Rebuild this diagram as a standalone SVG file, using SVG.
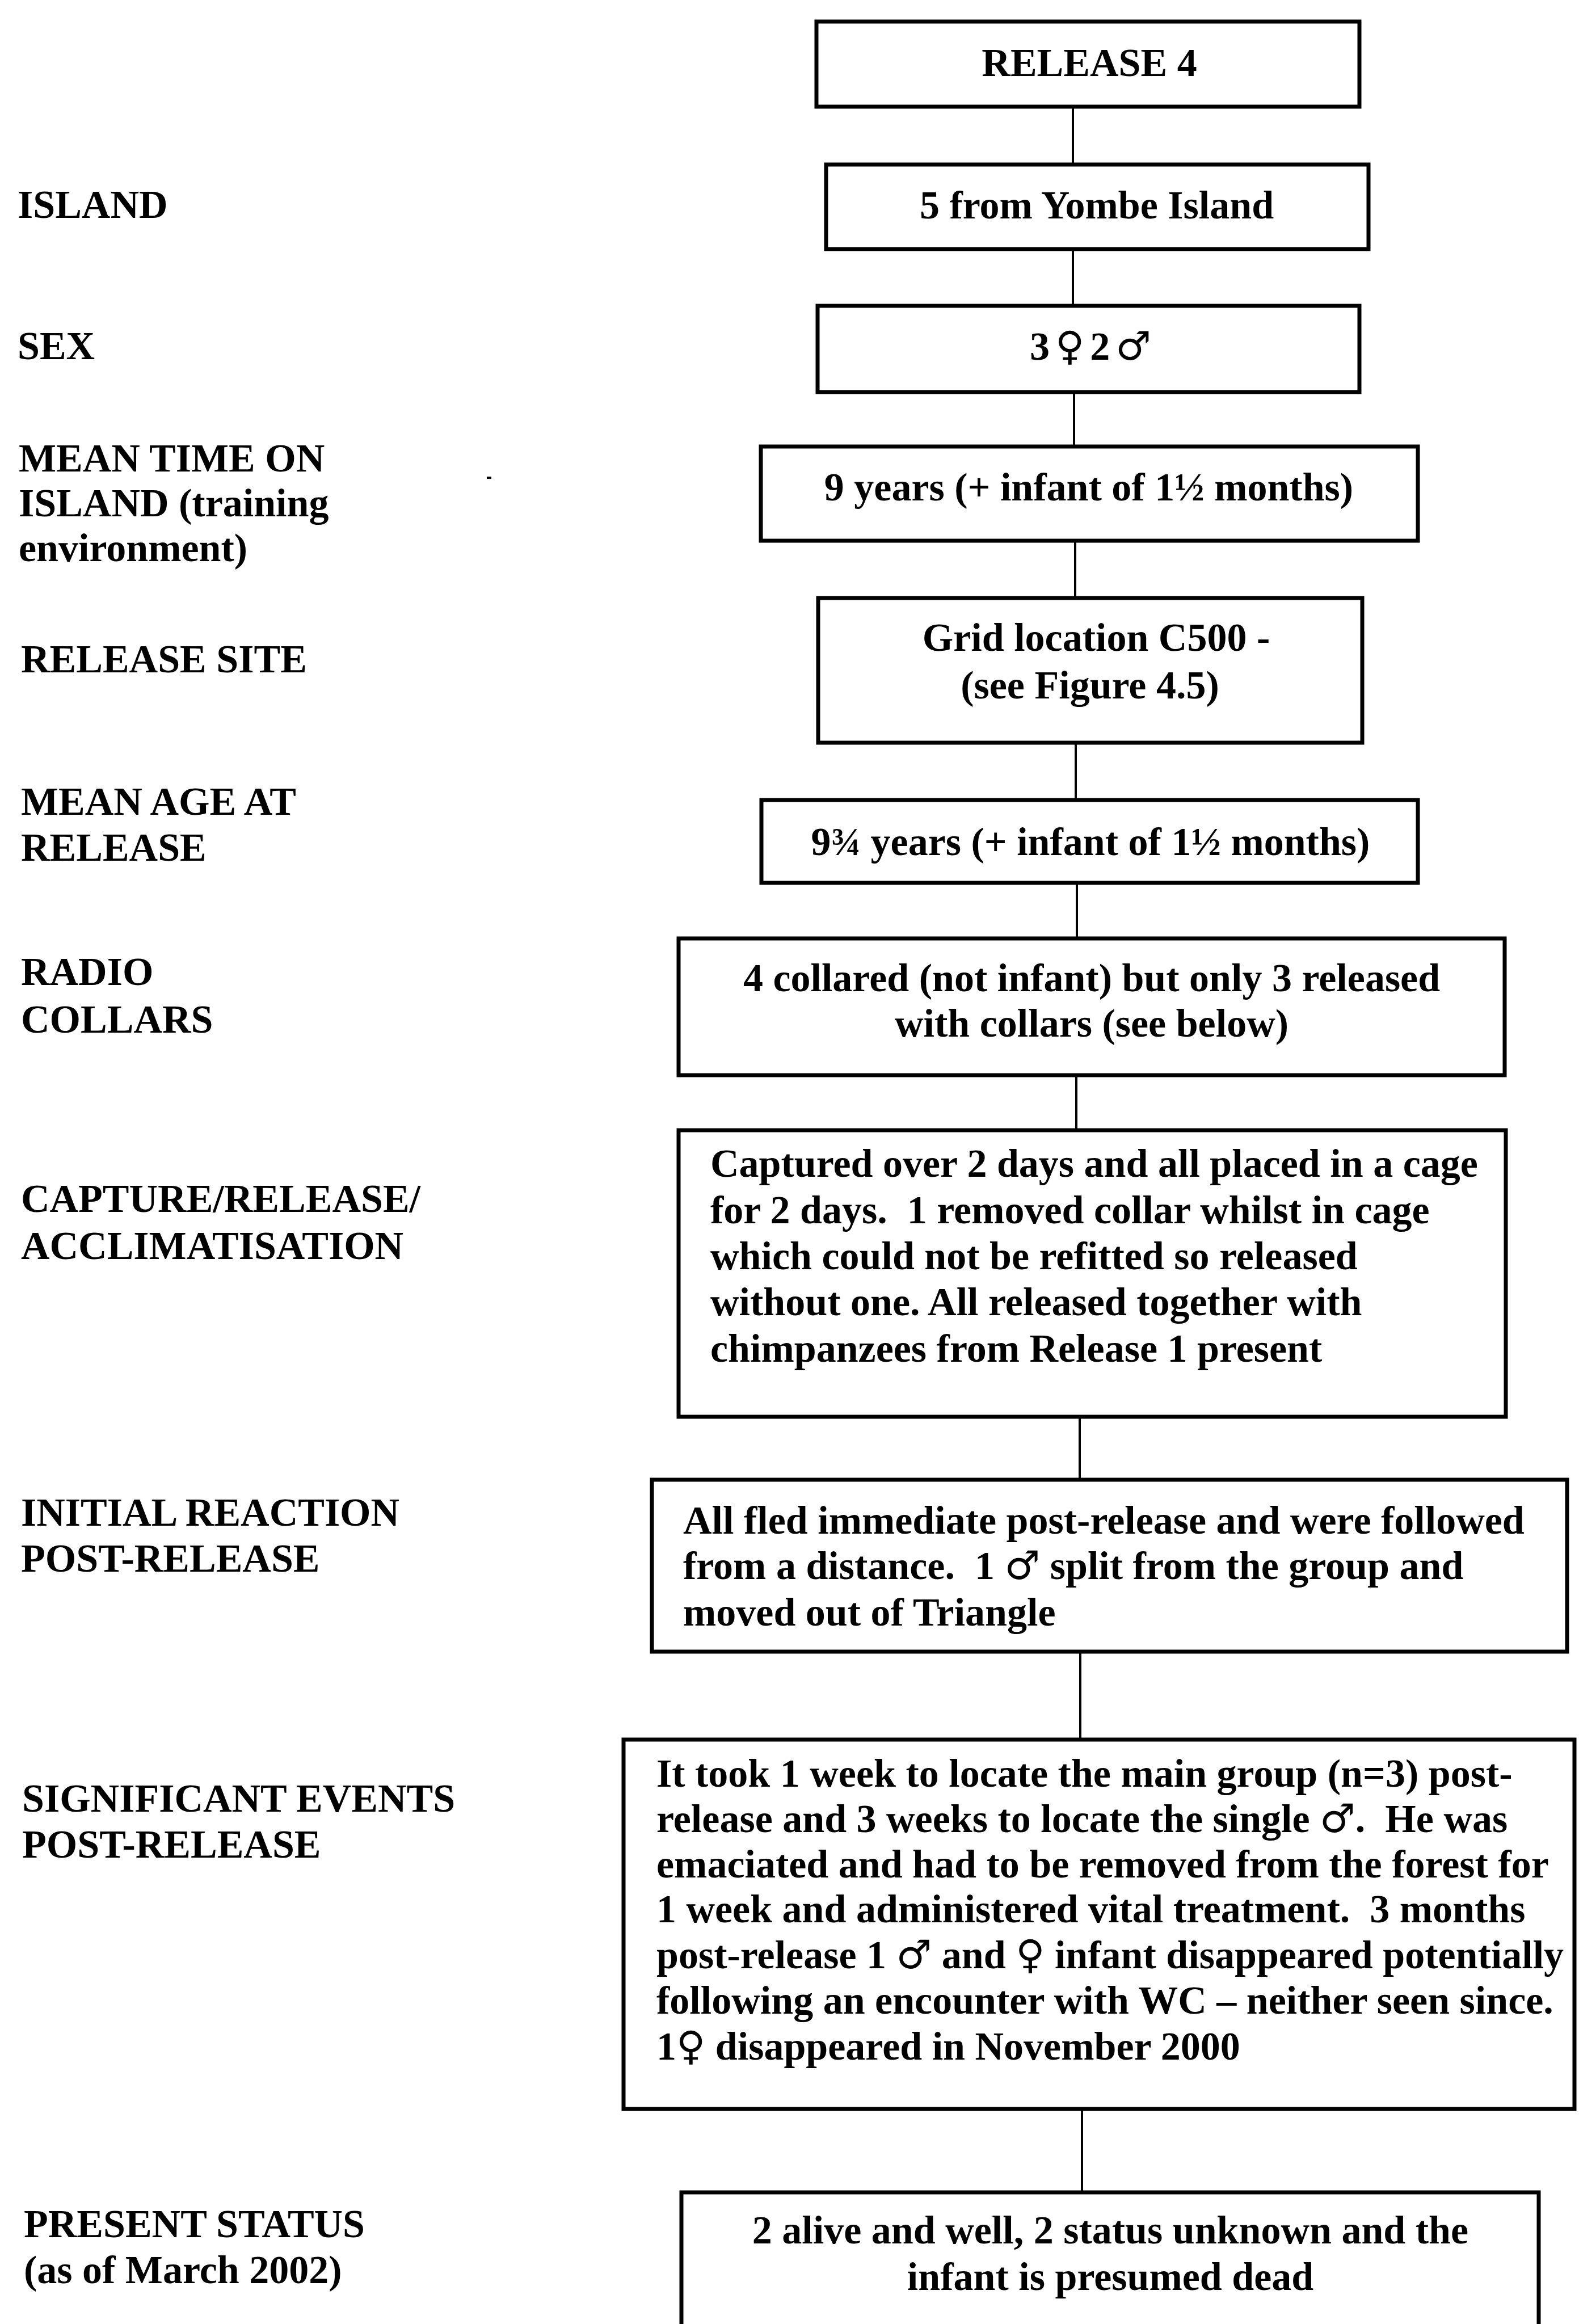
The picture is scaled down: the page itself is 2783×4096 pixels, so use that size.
<svg xmlns="http://www.w3.org/2000/svg" width="2783" height="4096" viewBox="0 0 2783 4096">
<style>
.box{fill:#fff;stroke:#000;stroke-width:7}
.conn{stroke:#000;stroke-width:4;fill:none}
.t{font-family:"Liberation Serif","DejaVu Serif",serif;font-weight:bold;font-size:70px;fill:#000;white-space:pre}
.c{text-anchor:middle}
.sym{font-family:"DejaVu Sans",sans-serif;font-weight:normal}
</style>
<rect width="2783" height="4096" fill="#fff"/>
<g id="connectors">
<line class="conn" x1="1891" y1="188" x2="1891" y2="290"/>
<line class="conn" x1="1891" y1="439" x2="1891" y2="539"/>
<line class="conn" x1="1893" y1="691" x2="1893" y2="787"/>
<line class="conn" x1="1895" y1="953" x2="1895" y2="1054"/>
<line class="conn" x1="1896" y1="1309" x2="1896" y2="1410"/>
<line class="conn" x1="1898" y1="1556" x2="1898" y2="1654"/>
<line class="conn" x1="1897" y1="1895" x2="1897" y2="1992"/>
<line class="conn" x1="1903" y1="2497" x2="1903" y2="2608"/>
<line class="conn" x1="1904" y1="2911" x2="1904" y2="3066"/>
<line class="conn" x1="1907" y1="3717" x2="1907" y2="3864"/>
</g>
<g id="labels">
<text class="t" x="31" y="384">ISLAND</text>
<text class="t" x="31" y="633">SEX</text>
<text class="t" x="33" y="831">MEAN TIME ON</text>
<text class="t" x="33" y="910">ISLAND (training</text>
<text class="t" x="33" y="989">environment)</text>
<text class="t" x="37" y="1185">RELEASE SITE</text>
<text class="t" x="37" y="1436">MEAN AGE AT</text>
<text class="t" x="37" y="1517">RELEASE</text>
<text class="t" x="37" y="1736">RADIO</text>
<text class="t" x="37" y="1820">COLLARS</text>
<text class="t" x="37" y="2136">CAPTURE/RELEASE/</text>
<text class="t" x="37" y="2219">ACCLIMATISATION</text>
<text class="t" x="37" y="2689">INITIAL REACTION</text>
<text class="t" x="37" y="2770">POST-RELEASE</text>
<text class="t" x="39" y="3193">SIGNIFICANT EVENTS</text>
<text class="t" x="39" y="3274">POST-RELEASE</text>
<text class="t" x="42" y="3943">PRESENT STATUS</text>
<text class="t" x="42" y="4024">(as of March 2002)</text>
<rect x="858" y="840" width="8" height="4" fill="#000"/>
</g>
<g id="n1">
<rect class="box" x="1439" y="38" width="957" height="150"/>
<text class="t c" x="1920" y="134">RELEASE 4</text>
</g>
<g id="n2">
<rect class="box" x="1456" y="290" width="956" height="149"/>
<text class="t c" x="1933" y="385">5 from Yombe Island</text>
</g>
<g id="n3">
<rect class="box" x="1441" y="539" width="955" height="152"/>
<text class="t c" x="1922" y="634">3<tspan class="sym" dx="10">♀</tspan><tspan dx="10">2</tspan><tspan class="sym" dx="10">♂</tspan></text>
</g>
<g id="n4">
<rect class="box" x="1341" y="787" width="1158" height="166"/>
<text class="t c" x="1919" y="882">9 years (+ infant of 1½ months)</text>
</g>
<g id="n5">
<rect class="box" x="1442" y="1054" width="959" height="255"/>
<text class="t c" x="1932" y="1147">Grid location C500 -</text>
<text class="t c" x="1921" y="1231">(see Figure 4.5)</text>
</g>
<g id="n6">
<rect class="box" x="1342" y="1410" width="1157" height="146"/>
<text class="t c" x="1922" y="1507">9¾ years (+ infant of 1½ months)</text>
</g>
<g id="n7">
<rect class="box" x="1196" y="1654" width="1456" height="241"/>
<text class="t c" x="1924" y="1747">4 collared (not infant) but only 3 released</text>
<text class="t c" x="1924" y="1827">with collars (see below)</text>
</g>
<g id="n8">
<rect class="box" x="1196" y="1992" width="1458" height="505"/>
<text class="t" x="1252" y="2074">Captured over 2 days and all placed in a cage</text>
<text class="t" x="1252" y="2156">for 2 days.  1 removed collar whilst in cage</text>
<text class="t" x="1252" y="2237">which could not be refitted so released</text>
<text class="t" x="1252" y="2318">without one. All released together with</text>
<text class="t" x="1252" y="2400">chimpanzees from Release 1 present</text>
</g>
<g id="n9">
<rect class="box" x="1149" y="2608" width="1613" height="303"/>
<text class="t" x="1204" y="2703">All fled immediate post-release and were followed</text>
<text class="t" x="1204" y="2783">from a distance.  1 <tspan class="sym">♂</tspan> split from the group and</text>
<text class="t" x="1204" y="2865">moved out of Triangle</text>
</g>
<g id="n10">
<rect class="box" x="1099" y="3066" width="1676" height="651"/>
<text class="t" x="1157" y="3149">It took 1 week to locate the main group (n=3) post-</text>
<text class="t" x="1157" y="3229">release and 3 weeks to locate the single <tspan class="sym">♂</tspan>.  He was</text>
<text class="t" x="1157" y="3309">emaciated and had to be removed from the forest for</text>
<text class="t" x="1157" y="3388">1 week and administered vital treatment.  3 months</text>
<text class="t" x="1157" y="3469">post-release 1 <tspan class="sym">♂</tspan> and <tspan class="sym">♀</tspan> infant disappeared potentially</text>
<text class="t" x="1157" y="3549">following an encounter with WC – neither seen since.</text>
<text class="t" x="1157" y="3630">1<tspan class="sym">♀</tspan> disappeared in November 2000</text>
</g>
<g id="n11">
<rect class="box" x="1201" y="3864" width="1511" height="260"/>
<text class="t c" x="1957" y="3954">2 alive and well, 2 status unknown and the</text>
<text class="t c" x="1957" y="4036">infant is presumed dead</text>
</g>
</svg>
